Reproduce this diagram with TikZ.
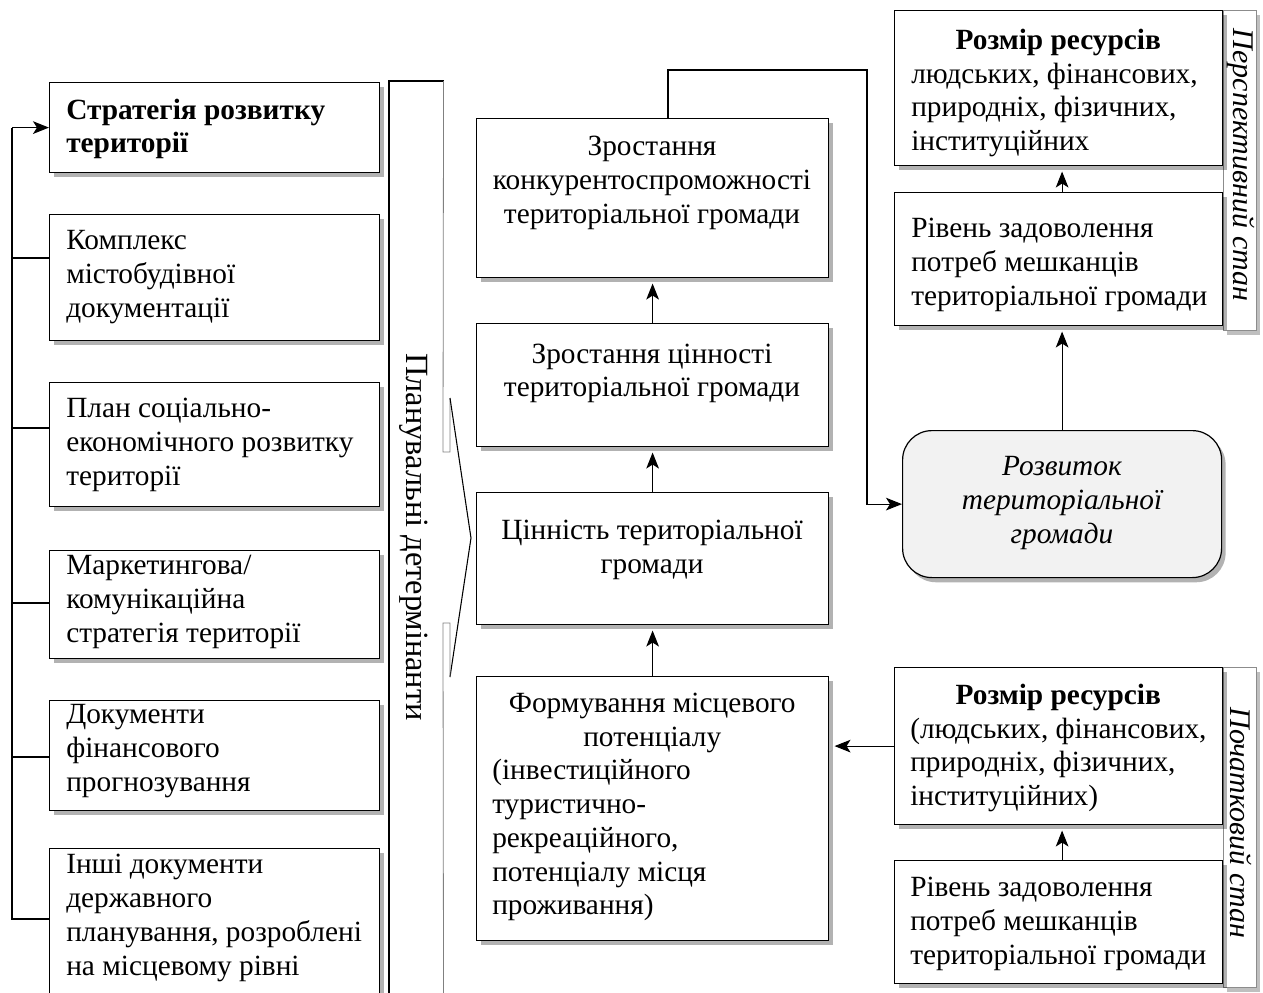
\documentclass[tikz,border=0pt]{standalone}
\usepackage{fontspec}
\setmainfont{Liberation Serif}
\usetikzlibrary{shadows,arrows.meta,calc}
\newcommand\pxu[1]{#1*0.75pt}
\newcommand\fsz{\fontsize{22}{25.3}\selectfont}
\begin{document}
\begin{tikzpicture}[x=0.75pt,y=-0.75pt,font=\fsz,
  box/.style={draw=black,line width=0.9pt,fill=white,anchor=north west,inner sep=0pt,
    drop shadow={shadow xshift=3pt,shadow yshift=-3.5pt,fill=black,opacity=0.3}},
  lblbox/.style={draw=black!45,line width=0.5pt,fill=white,anchor=north west,inner sep=0pt,
    drop shadow={shadow xshift=3pt,shadow yshift=-3.5pt,fill=black,opacity=0.25}},
  txt/.style={inner sep=0pt,align=left},
  ctxt/.style={inner sep=0pt,align=center},
  ln/.style={line width=0.9pt},
  arr/.style={line width=0.9pt,-{Stealth[length=12pt,width=9.5pt,inset=3pt]}},
  arrs/.style={arr,shorten >=4pt}]
\useasboundingbox (0,0) rectangle (1263,992);
\clip (0,0) rectangle (1263,992);

% left column
\node[box,minimum width=\pxu{330},minimum height=\pxu{90}] (L1) at (49,82) {};
\node[txt,anchor=west,font=\fsz\bfseries] (tL1) at (66,129) {Стратегія розвитку\\території};
\node[box,minimum width=\pxu{330},minimum height=\pxu{126}] (L2) at (49,214) {};
\node[txt,anchor=west] (tL2) at (66,277) {Комплекс\\містобудівної\\документації};
\node[box,minimum width=\pxu{330},minimum height=\pxu{124}] (L3) at (49,382) {};
\node[txt,anchor=west] (tL3) at (66,445) {План соціально-\\економічного розвитку\\території};
\node[box,minimum width=\pxu{330},minimum height=\pxu{108}] (L4) at (49,550) {};
\node[txt,anchor=west] (tL4) at (66,602) {Маркетингова/\\комунікаційна\\стратегія території};
\node[box,minimum width=\pxu{330},minimum height=\pxu{110}] (L5) at (49,700) {};
\node[txt,anchor=west] (tL5) at (66,751) {Документи\\фінансового\\прогнозування};
\node[box,minimum width=\pxu{330},minimum height=\pxu{170}] (L6) at (49,848) {};
\node[txt,anchor=west] (tL6) at (66,918) {Інші документи\\державного\\планування, розроблені\\на місцевому рівні};

% bracket on the left
\coordinate (bb) at (12,919);
\coordinate (t2) at (12,258);
\coordinate (t3) at (12,428);
\coordinate (t4) at (12,603);
\coordinate (t5) at (12,757);
\draw[arr] (L1.west -| bb) -- (L1.west);
\draw[ln] (L1.west -| bb) -- (bb) -- (bb -| L6.west);
\draw[ln] (t2) -- (t2 -| L2.west);
\draw[ln] (t3) -- (t3 -| L3.west);
\draw[ln] (t4) -- (t4 -| L4.west);
\draw[ln] (t5) -- (t5 -| L5.west);

% planning determinants
\node[anchor=north west,inner sep=0pt,minimum width=\pxu{54},minimum height=\pxu{930}] (plan) at (389,81) {};
\draw[line width=0.9pt] (plan.south west) -- (plan.north west) -- (plan.north east);
\draw[black!50,line width=0.6pt] (plan.north east) -- (443,452) -- (450,452) -- (450,398);
\draw[line width=0.8pt] (450,398) -- (471,538) -- (450,677);
\draw[black!50,line width=0.6pt] (450,677) -- (450,623) -- (443,623) -- (plan.south east);
\node[rotate=-90,inner sep=0pt,font=\fontsize{24.3}{28}\selectfont] (planlbl) at (414,537) {Планувальні детермінанти};

% middle column
\node[box,minimum width=\pxu{352},minimum height=\pxu{159}] (M1) at (476,118) {};
\node[ctxt] (tM1) at (652,183) {Зростання\\конкурентоспроможності\\територіальної громади};
\node[box,minimum width=\pxu{352},minimum height=\pxu{123}] (M2) at (476,323) {};
\node[ctxt] (tM2) at (652,373.5) {Зростання цінності\\територіальної громади};
\node[box,minimum width=\pxu{352},minimum height=\pxu{132}] (M3) at (476,492) {};
\node[ctxt] (tM3) at (652,550) {Цінність територіальної\\громади};
\node[box,minimum width=\pxu{352},minimum height=\pxu{264}] (M4) at (476,676) {};
\node[txt,anchor=west] (tM4) at (492,807) {\makebox[240pt][c]{Формування місцевого}\\\makebox[240pt][c]{потенціалу}\\(інвестиційного\\туристично-\\рекреаційного,\\потенціалу місця\\проживання)};

\draw[arrs] (M2.north) -- (M1.south);
\draw[arrs] (M3.north) -- (M2.south);
\draw[arrs] (M4.north) -- (M3.south);

% side label boxes
\node[lblbox,minimum width=\pxu{33},minimum height=\pxu{320}] (P1) at (1223,10) {};
\node[rotate=-90,inner sep=0pt,font=\fontsize{22.5}{26}\selectfont\itshape] (tP1) at (1241,165) {Перспективний стан};
\node[lblbox,minimum width=\pxu{33},minimum height=\pxu{320}] (P2) at (1223,667) {};
\node[rotate=-90,inner sep=0pt,font=\fontsize{22.5}{26}\selectfont\itshape] (tP2) at (1241,823) {Початковий стан};

% development
\node[draw=black,line width=0.9pt,fill=black!5,rounded corners=22pt,anchor=north west,inner sep=0pt,
  minimum width=\pxu{319},minimum height=\pxu{147},
  drop shadow={shadow xshift=3pt,shadow yshift=-3.5pt,fill=black,opacity=0.3}] (Dev) at (902,430) {};
\node[ctxt,font=\fsz\itshape] (tDev) at (1062,503) {Розвиток\\територіальної\\громади};

% right top
\node[box,minimum width=\pxu{328},minimum height=\pxu{155}] (RT1) at (894,10) {};
\node[txt,anchor=west] (tRT1) at (911,93) {\makebox[220.5pt][c]{\bfseries Розмір ресурсів}\\людських, фінансових,\\природніх, фізичних,\\інституційних};
\node[box,minimum width=\pxu{328},minimum height=\pxu{133}] (RT2) at (894,192) {};
\node[txt,anchor=west] (tRT2) at (911,265) {Рівень задоволення\\потреб мешканців\\територіальної громади};

% right bottom
\node[box,minimum width=\pxu{328},minimum height=\pxu{157}] (RB1) at (894,667) {};
\node[txt,anchor=west] (tRB1) at (910,748) {\makebox[222pt][c]{\bfseries Розмір ресурсів}\\(людських, фінансових,\\природніх, фізичних,\\інституційних)};
\node[box,minimum width=\pxu{328},minimum height=\pxu{123}] (RB2) at (894,860) {};
\node[txt,anchor=west] (tRB2) at (910,924) {Рівень задоволення\\потреб мешканців\\територіальної громади};

% connectors
\coordinate (k1) at (668,70);
\coordinate (k2) at (867,70);
\draw[arr] (M1.north -| k1) -- (k1) -- (k2) |- (Dev.west);
\draw[arrs] (Dev.north) -- (Dev.north |- RT2.south);
\draw[arrs] (RT2.north -| Dev.north) -- (Dev.north |- RT1.south);
\draw[arrs] (RB2.north -| Dev.north) -- (Dev.north |- RB1.south);
\draw[arrs] (RB1.west) -- (RB1.west -| M4.east);
\end{tikzpicture}
\end{document}
